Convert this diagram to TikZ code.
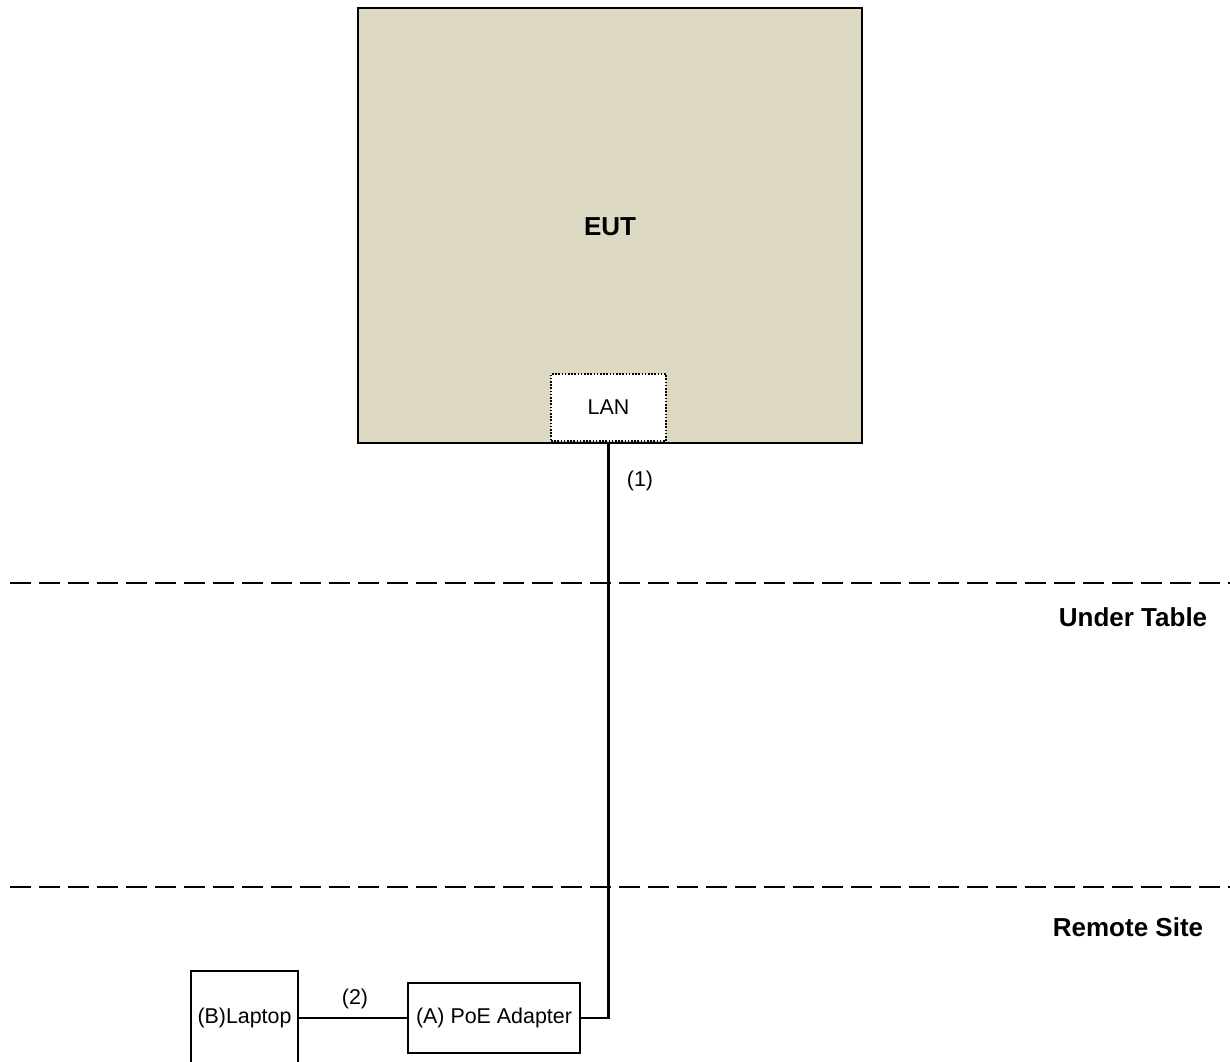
\documentclass[tikz,border=0pt]{standalone}
\usepackage{fontspec}
\setmainfont{Liberation Sans}
\usepackage{tikz}

\definecolor{eutfill}{RGB}{221,217,195}

\begin{document}
\begin{tikzpicture}
	[x=0.5pt,y=-0.5pt,every node/.style={rectangle,inner sep=0pt,font=\fontsize{10.7}{13}\selectfont},
	 unit/.style={draw,line width=1.1pt,fill=white},
	 zone/.style={font=\fontsize{13}{16}\selectfont\bfseries},
	 cable/.style={line width=1.1pt},
	 border/.style={line width=1.1pt,dash pattern=on 10.5pt off 4pt}]
	\useasboundingbox (0,0) rectangle (1230,1061);
	\node[unit,fill=eutfill,minimum width=252pt,minimum height=217.5pt] (eut) at (610,225.5) {};
	\node[zone] (euttext) at (610,227) {EUT};
	\node[draw,line width=1.3pt,dash pattern=on 0.8pt off 0.8pt,fill=white,minimum width=57.5pt,minimum height=33.5pt] (lan) at (608.5,407.5) {LAN};
	\node[unit,minimum width=86pt,minimum height=35pt] (poe) at (494,1018) {(A) PoE Adapter};
	\node[unit,minimum width=53.5pt,minimum height=50pt] (laptop) at (244.5,1021) {};
	\node (laptoptext) at (244.5,1018) {(B)Laptop};
	\node (l1) at (640,481) {(1)};
	\node (l2) at (355,999) {(2)};
	\node[zone] (under) at (1133,617) {Under Table};
	\node[zone] (remote) at (1128,927) {Remote Site};
	
	\coordinate (a1) at (10,583);
	\coordinate (b1) at (1230,583);
	\coordinate (a2) at (10,887);
	\coordinate (b2) at (1230,887);
	\foreach \from/\to in {a1/b1,a2/b2}
	\draw[border] (\from) -- (\to);
	
	\draw[cable] (lan.south) |- (poe.east);
	\draw[cable] (laptop.east |- poe.west) -- (poe.west);
\end{tikzpicture}
\end{document}
